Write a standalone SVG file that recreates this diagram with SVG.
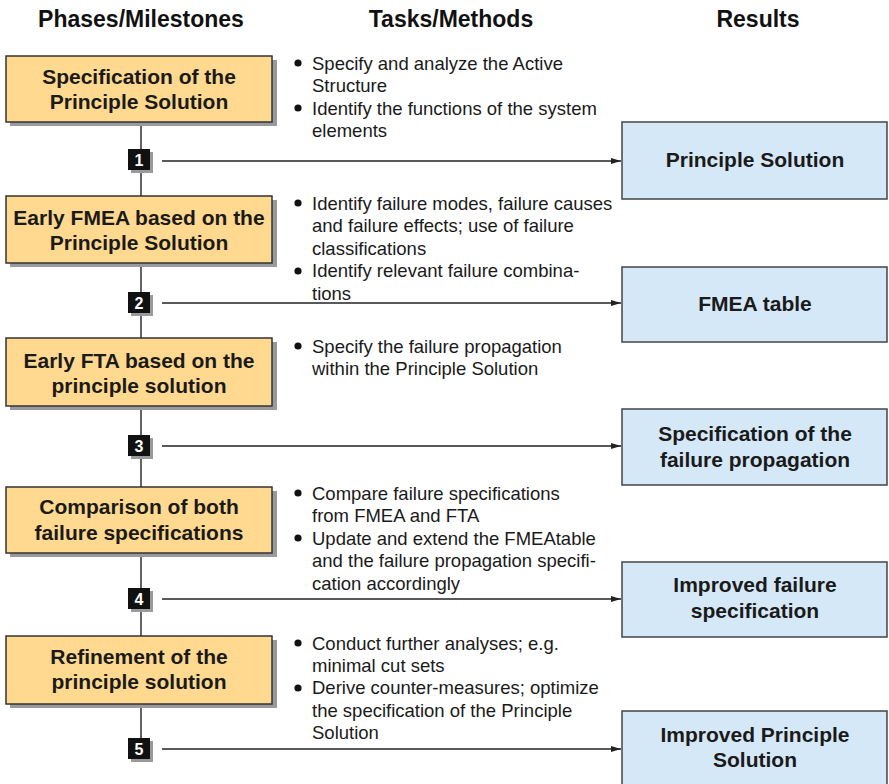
<svg xmlns="http://www.w3.org/2000/svg" width="889" height="784" viewBox="0 0 889 784">
  <style>
    .hdr { font: bold 23px "Liberation Sans", Arial, sans-serif; fill: #111; text-anchor: middle; }
    .phase rect.box { fill: #FFD98F; stroke: #333; stroke-width: 1.5; }
    .phase rect.shadow { fill: #9a9a9e; }
    .phase text, .result text { font: bold 21px "Liberation Sans", Arial, sans-serif; fill: #1a1a1a; text-anchor: middle; }
    .result rect { fill: #D5E8F7; stroke: #444; stroke-width: 1.5; }
    .task text { font: 18.5px "Liberation Sans", Arial, sans-serif; fill: #1a1a1a; }
    .task circle { fill: #111; }
    .ms rect.sq { fill: #111; }
    .ms rect.shadow { fill: #9a9a9e; }
    .ms text { font: bold 16px "Liberation Sans", Arial, sans-serif; fill: #fff; text-anchor: middle; }
    .conn line { stroke: #222; stroke-width: 1.4; }
  </style>
  <defs>
    <marker id="arrow" viewBox="0 0 10 6" refX="10" refY="3" markerWidth="10" markerHeight="6" markerUnits="userSpaceOnUse" orient="auto">
      <path d="M0,0 L10,3 L0,6 z" fill="#222"/>
    </marker>
  </defs>

  <rect width="889" height="784" fill="#fff"/>

  <!-- column headings -->
  <text class="hdr" x="141" y="27">Phases/Milestones</text>
  <text class="hdr" x="451" y="27">Tasks/Methods</text>
  <text class="hdr" x="758" y="27">Results</text>

  <!-- connectors: spine and milestone-to-result arrows -->
  <g id="connectors" class="conn">
    <line x1="141" y1="122" x2="141" y2="196"/>
    <line x1="141" y1="263" x2="141" y2="338"/>
    <line x1="141" y1="406" x2="141" y2="487"/>
    <line x1="141" y1="553" x2="141" y2="636"/>
    <line x1="141" y1="704" x2="141" y2="738"/>
    <line x1="162" y1="161" x2="621" y2="161" marker-end="url(#arrow)"/>
    <line x1="162" y1="303" x2="621" y2="303" marker-end="url(#arrow)"/>
    <line x1="162" y1="446" x2="621" y2="446" marker-end="url(#arrow)"/>
    <line x1="162" y1="599" x2="621" y2="599" marker-end="url(#arrow)"/>
    <line x1="162" y1="749" x2="621" y2="749" marker-end="url(#arrow)"/>
  </g>

  <!-- phases -->
  <g id="phase1" class="phase">
    <rect class="shadow" x="10" y="60" width="267" height="66"/>
    <rect class="box" x="6" y="56" width="266" height="66"/>
    <text x="139" y="84">Specification of the</text>
    <text x="139" y="109">Principle Solution</text>
  </g>
  <g id="phase2" class="phase">
    <rect class="shadow" x="10" y="200" width="267" height="67"/>
    <rect class="box" x="6" y="196" width="266" height="67"/>
    <text x="139" y="225">Early FMEA based on the</text>
    <text x="139" y="250">Principle Solution</text>
  </g>
  <g id="phase3" class="phase">
    <rect class="shadow" x="10" y="342" width="267" height="68"/>
    <rect class="box" x="6" y="338" width="266" height="68"/>
    <text x="139" y="368">Early FTA based on the</text>
    <text x="139" y="393">principle solution</text>
  </g>
  <g id="phase4" class="phase">
    <rect class="shadow" x="10" y="491" width="267" height="66"/>
    <rect class="box" x="6" y="487" width="266" height="66"/>
    <text x="139" y="514">Comparison of both</text>
    <text x="139" y="540">failure specifications</text>
  </g>
  <g id="phase5" class="phase">
    <rect class="shadow" x="10" y="640" width="267" height="68"/>
    <rect class="box" x="6" y="636" width="266" height="68"/>
    <text x="139" y="664">Refinement of the</text>
    <text x="139" y="689">principle solution</text>
  </g>

  <!-- milestones -->
  <g id="milestone1" class="ms">
    <rect class="shadow" x="131" y="152" width="22" height="21"/>
    <rect class="sq" x="128" y="149" width="22" height="21"/>
    <text x="139" y="165.5">1</text>
  </g>
  <g id="milestone2" class="ms">
    <rect class="shadow" x="131" y="295" width="22" height="21"/>
    <rect class="sq" x="128" y="292" width="22" height="21"/>
    <text x="139" y="308.5">2</text>
  </g>
  <g id="milestone3" class="ms">
    <rect class="shadow" x="131" y="438" width="22" height="21"/>
    <rect class="sq" x="128" y="435" width="22" height="21"/>
    <text x="139" y="451.5">3</text>
  </g>
  <g id="milestone4" class="ms">
    <rect class="shadow" x="131" y="591" width="22" height="21"/>
    <rect class="sq" x="128" y="588" width="22" height="21"/>
    <text x="139" y="604.5">4</text>
  </g>
  <g id="milestone5" class="ms">
    <rect class="shadow" x="131" y="741" width="22" height="21"/>
    <rect class="sq" x="128" y="738" width="22" height="21"/>
    <text x="139" y="754.5">5</text>
  </g>

  <!-- tasks / methods -->
  <g id="tasks1" class="task">
    <circle cx="298" cy="63" r="3.6"/>
    <text x="312" y="69.5">Specify and analyze the Active</text>
    <text x="312" y="92">Structure</text>
    <circle cx="298" cy="108" r="3.6"/>
    <text x="312" y="114.5">Identify the functions of the system</text>
    <text x="312" y="137">elements</text>
  </g>
  <g id="tasks2" class="task">
    <circle cx="298" cy="203" r="3.6"/>
    <text x="312" y="209.5">Identify failure modes, failure causes</text>
    <text x="312" y="232">and failure effects; use of failure</text>
    <text x="312" y="254.5">classifications</text>
    <circle cx="298" cy="271" r="3.6"/>
    <text x="312" y="277">Identify relevant failure combina-</text>
    <text x="312" y="300">tions</text>
  </g>
  <g id="tasks3" class="task">
    <circle cx="298" cy="346" r="3.6"/>
    <text x="312" y="352.5">Specify the failure propagation</text>
    <text x="312" y="375">within the Principle Solution</text>
  </g>
  <g id="tasks4" class="task">
    <circle cx="298" cy="493" r="3.6"/>
    <text x="312" y="499.5">Compare failure specifications</text>
    <text x="312" y="522">from FMEA and FTA</text>
    <circle cx="298" cy="538" r="3.6"/>
    <text x="312" y="544.5">Update and extend the FMEAtable</text>
    <text x="312" y="567">and the failure propagation specifi-</text>
    <text x="312" y="589.5">cation accordingly</text>
  </g>
  <g id="tasks5" class="task">
    <circle cx="298" cy="643" r="3.6"/>
    <text x="312" y="649.5">Conduct further analyses; e.g.</text>
    <text x="312" y="671.5">minimal cut sets</text>
    <circle cx="298" cy="688" r="3.6"/>
    <text x="312" y="694">Derive counter-measures; optimize</text>
    <text x="312" y="716.5">the specification of the Principle</text>
    <text x="312" y="738.5">Solution</text>
  </g>

  <!-- results -->
  <g id="result1" class="result">
    <rect x="622" y="122" width="265" height="77"/>
    <text x="755" y="167">Principle Solution</text>
  </g>
  <g id="result2" class="result">
    <rect x="622" y="267" width="265" height="75"/>
    <text x="755" y="311">FMEA table</text>
  </g>
  <g id="result3" class="result">
    <rect x="622" y="409" width="265" height="76"/>
    <text x="755" y="441">Specification of the</text>
    <text x="755" y="467">failure propagation</text>
  </g>
  <g id="result4" class="result">
    <rect x="622" y="562" width="265" height="75"/>
    <text x="755" y="592">Improved failure</text>
    <text x="755" y="618">specification</text>
  </g>
  <g id="result5" class="result">
    <rect x="622" y="711" width="265" height="80"/>
    <text x="755" y="742">Improved Principle</text>
    <text x="755" y="767">Solution</text>
  </g>
</svg>
